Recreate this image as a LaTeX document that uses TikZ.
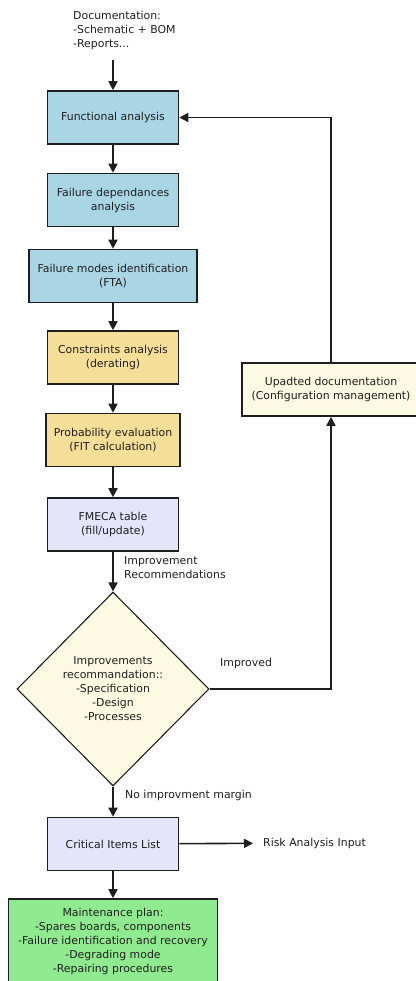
\documentclass[tikz,border=0pt]{standalone}
\usepackage{fontspec}
\setmainfont{DejaVu Sans}
\usepackage{tikz}
\usetikzlibrary{arrows.meta,shapes.geometric}
\definecolor{fablue}{RGB}{170,213,228}
\definecolor{fayellow}{RGB}{245,222,152}
\definecolor{falav}{RGB}{228,228,250}
\definecolor{facream}{RGB}{253,250,228}
\definecolor{fagreen}{RGB}{144,234,144}
\definecolor{faline}{RGB}{30,30,30}

\begin{document}
\begin{tikzpicture}[x=1pt, y=-1pt,
        every node/.style={font=\fontsize{10.9}{14}\selectfont, text=black!88},
        box/.style={rectangle, draw=faline, line width=1.6pt, align=center, minimum height=53pt, inner sep=0pt},
        lbl/.style={align=left, anchor=west, inner sep=0pt},
        arr/.style={draw=faline, line width=1.6pt, -{Triangle[length=9pt, width=9pt]}}]
        \useasboundingbox (0,0) rectangle (415,981);

        % Input documents
        \node[lbl] (doc) at (73,30) {Documentation:\\-Schematic + BOM\\-Reports...};
        \coordinate (docend) at (113,60);

        % Main column
        \node[box, fill=fablue, minimum width=131pt] (func) at (113,117.5) {Functional analysis};
        \node[box, fill=fablue, minimum width=131pt] (dep) at (113,200) {Failure dependances\\analysis};
        \node[box, fill=fablue, minimum width=168pt] (modes) at (113,276) {Failure modes identification\\(FTA)};
        \node[box, fill=fayellow, minimum width=131pt] (constr) at (113,357.5) {Constraints analysis\\(derating)};
        \node[box, fill=fayellow, minimum width=134pt] (prob) at (113,440) {Probability evaluation\\(FIT calculation)};
        \node[box, fill=falav, minimum width=131pt] (fmeca) at (113,524.5) {FMECA table\\(fill/update)};
        \node[diamond, draw=faline, line width=1.1pt, fill=facream, minimum width=192pt, minimum height=194pt, inner sep=0pt, align=center] (dec) at (113,689)
            {Improvements\\recommandation::\\-Specification\\-Design\\-Processes};
        \node[box, fill=falav, minimum width=131pt] (cil) at (113,844) {Critical Items List};
        \node[box, fill=fagreen, minimum width=209pt, minimum height=84pt] (maint) at (113,941)
            {Maintenance plan:\\-Spares boards, components\\-Failure identification and recovery\\-Degrading mode\\-Repairing procedures};

        % Feedback box
        \node[box, fill=facream, minimum width=178pt] (upd) at (331,389.5) {Upadted documentation\\(Configuration management)};

        % Labels
        \node[lbl] (imprec) at (124,568) {Improvement\\Recommendations};
        \node[lbl] (improved) at (220,663) {Improved};
        \node[lbl] (nomargin) at (125,795) {No improvment margin};
        \node[lbl] (risk) at (263,843) {Risk Analysis Input};

        % Edges
        \draw[arr] (docend) -- (func);
        \draw[arr] (func) -- (dep);
        \draw[arr] (dep) -- (modes);
        \draw[arr] (modes) -- (constr);
        \draw[arr] (constr) -- (prob);
        \draw[arr] (prob) -- (fmeca);
        \draw[arr] (fmeca) -- (dec);
        \draw[arr] (dec) -- (cil);
        \draw[arr] (cil) -- (maint);
        \draw[arr, shorten >=10pt] (cil) -- (risk);
        \draw[arr] (dec.east) -| (upd.south);
        \draw[arr] (upd.north) |- (func.east);
    \end{tikzpicture}
\end{document}
